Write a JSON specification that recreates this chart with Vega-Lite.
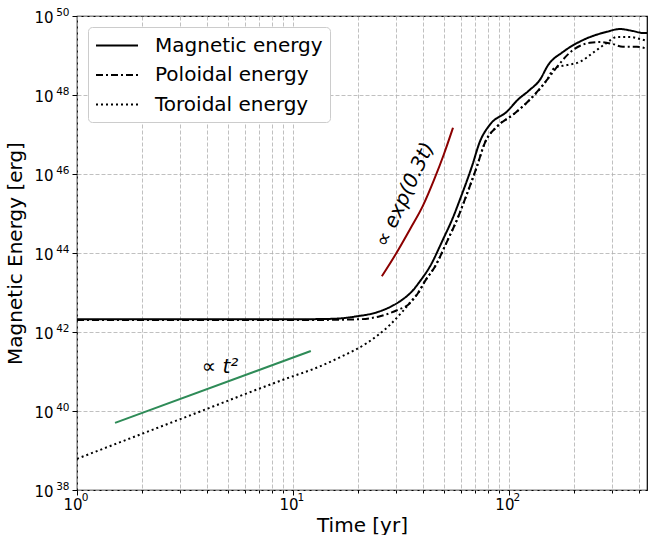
{
  "$schema": "https://vega.github.io/schema/vega-lite/v6.json",
  "width": 570,
  "height": 474,
  "autosize": {"type": "none"},
  "padding": {"left": 77, "top": 16, "right": 5, "bottom": 45},
  "background": "white",
  "config": {
    "font": "DejaVu Sans",
    "view": {"stroke": "black", "strokeWidth": 1.2},
    "axis": {
      "labelFont": "DejaVu Sans",
      "titleFont": "DejaVu Sans",
      "labelFontSize": 15,
      "titleFontSize": 20,
      "titleFontWeight": "normal",
      "labelColor": "black",
      "titleColor": "black",
      "tickColor": "black",
      "domain": false,
      "grid": true,
      "gridColor": "#b0b0b0",
      "gridDash": [4, 2],
      "gridWidth": 0.8,
      "tickSize": 5,
      "labelFlush": false,
      "labelOverlap": false
    }
  },
  "resolve": {"axis": {"x": "independent", "y": "independent"}},
  "datasets": {
    "main": [
      {"series": "Magnetic energy", "t": 1, "E": 2.1e42},
      {"series": "Magnetic energy", "t": 3.16, "E": 2.1e42},
      {"series": "Magnetic energy", "t": 10, "E": 2.1e42},
      {"series": "Magnetic energy", "t": 15, "E": 2.15e42},
      {"series": "Magnetic energy", "t": 19.8, "E": 2.5e42},
      {"series": "Magnetic energy", "t": 24.5, "E": 3.16e42},
      {"series": "Magnetic energy", "t": 28.1, "E": 4.27e42},
      {"series": "Magnetic energy", "t": 32.3, "E": 6.76e42},
      {"series": "Magnetic energy", "t": 35.6, "E": 1.07e43},
      {"series": "Magnetic energy", "t": 38.7, "E": 1.91e43},
      {"series": "Magnetic energy", "t": 43.1, "E": 4.57e43},
      {"series": "Magnetic energy", "t": 49.5, "E": 2.19e44},
      {"series": "Magnetic energy", "t": 55.1, "E": 7.94e44},
      {"series": "Magnetic energy", "t": 59.3, "E": 2.24e45},
      {"series": "Magnetic energy", "t": 67.4, "E": 1.55e46},
      {"series": "Magnetic energy", "t": 73.4, "E": 6.61e46},
      {"series": "Magnetic energy", "t": 81.7, "E": 1.78e47},
      {"series": "Magnetic energy", "t": 97.9, "E": 3.8e47},
      {"series": "Magnetic energy", "t": 110, "E": 7.6e47},
      {"series": "Magnetic energy", "t": 125, "E": 1.35e48},
      {"series": "Magnetic energy", "t": 139, "E": 2.4e48},
      {"series": "Magnetic energy", "t": 152, "E": 5.75e48},
      {"series": "Magnetic energy", "t": 178, "E": 1.23e49},
      {"series": "Magnetic energy", "t": 220, "E": 2.45e49},
      {"series": "Magnetic energy", "t": 284, "E": 3.98e49},
      {"series": "Magnetic energy", "t": 326, "E": 4.68e49},
      {"series": "Magnetic energy", "t": 375, "E": 4.17e49},
      {"series": "Magnetic energy", "t": 417, "E": 3.72e49},
      {"series": "Magnetic energy", "t": 436, "E": 3.72e49},
      {"series": "Poloidal energy", "t": 1, "E": 2.0e42},
      {"series": "Poloidal energy", "t": 3.16, "E": 2.0e42},
      {"series": "Poloidal energy", "t": 10, "E": 2.0e42},
      {"series": "Poloidal energy", "t": 19.8, "E": 2.09e42},
      {"series": "Poloidal energy", "t": 25.3, "E": 2.51e42},
      {"series": "Poloidal energy", "t": 30.3, "E": 3.55e42},
      {"series": "Poloidal energy", "t": 34.8, "E": 5.37e42},
      {"series": "Poloidal energy", "t": 37.9, "E": 9.55e42},
      {"series": "Poloidal energy", "t": 40.8, "E": 1.91e43},
      {"series": "Poloidal energy", "t": 45.5, "E": 4.57e43},
      {"series": "Poloidal energy", "t": 52.2, "E": 2.19e44},
      {"series": "Poloidal energy", "t": 58.1, "E": 7.94e44},
      {"series": "Poloidal energy", "t": 62.5, "E": 2.24e45},
      {"series": "Poloidal energy", "t": 71.1, "E": 1.55e46},
      {"series": "Poloidal energy", "t": 77.4, "E": 6.17e46},
      {"series": "Poloidal energy", "t": 88, "E": 1.58e47},
      {"series": "Poloidal energy", "t": 104.4, "E": 3.16e47},
      {"series": "Poloidal energy", "t": 125, "E": 7.6e47},
      {"series": "Poloidal energy", "t": 150, "E": 2.4e48},
      {"series": "Poloidal energy", "t": 167, "E": 5.13e48},
      {"series": "Poloidal energy", "t": 191, "E": 1.17e49},
      {"series": "Poloidal energy", "t": 237, "E": 2.09e49},
      {"series": "Poloidal energy", "t": 264, "E": 2.19e49},
      {"series": "Poloidal energy", "t": 303, "E": 1.95e49},
      {"series": "Poloidal energy", "t": 337, "E": 1.66e49},
      {"series": "Poloidal energy", "t": 391, "E": 1.66e49},
      {"series": "Poloidal energy", "t": 436, "E": 1.48e49},
      {"series": "Toroidal energy", "t": 1, "E": 6.17e38},
      {"series": "Toroidal energy", "t": 3.16, "E": 6.9e39},
      {"series": "Toroidal energy", "t": 10, "E": 7.6e40},
      {"series": "Toroidal energy", "t": 12.4, "E": 1.15e41},
      {"series": "Toroidal energy", "t": 16.5, "E": 2.29e41},
      {"series": "Toroidal energy", "t": 22.0, "E": 5.25e41},
      {"series": "Toroidal energy", "t": 28.1, "E": 1.51e42},
      {"series": "Toroidal energy", "t": 32.3, "E": 3.39e42},
      {"series": "Toroidal energy", "t": 35.9, "E": 6.76e42},
      {"series": "Toroidal energy", "t": 37.9, "E": 9.55e42},
      {"series": "Toroidal energy", "t": 40.8, "E": 1.91e43},
      {"series": "Toroidal energy", "t": 45.5, "E": 4.57e43},
      {"series": "Toroidal energy", "t": 52.2, "E": 2.19e44},
      {"series": "Toroidal energy", "t": 58.1, "E": 7.94e44},
      {"series": "Toroidal energy", "t": 62.5, "E": 2.24e45},
      {"series": "Toroidal energy", "t": 71.1, "E": 1.55e46},
      {"series": "Toroidal energy", "t": 77.4, "E": 6.17e46},
      {"series": "Toroidal energy", "t": 88, "E": 1.58e47},
      {"series": "Toroidal energy", "t": 104.4, "E": 3.16e47},
      {"series": "Toroidal energy", "t": 125, "E": 7.6e47},
      {"series": "Toroidal energy", "t": 150, "E": 2.4e48},
      {"series": "Toroidal energy", "t": 163, "E": 4.9e48},
      {"series": "Toroidal energy", "t": 186, "E": 5.75e48},
      {"series": "Toroidal energy", "t": 213, "E": 6.9e48},
      {"series": "Toroidal energy", "t": 245, "E": 1.17e49},
      {"series": "Toroidal energy", "t": 284, "E": 2.09e49},
      {"series": "Toroidal energy", "t": 316, "E": 2.95e49},
      {"series": "Toroidal energy", "t": 363, "E": 2.95e49},
      {"series": "Toroidal energy", "t": 403, "E": 2.63e49},
      {"series": "Toroidal energy", "t": 436, "E": 2.34e49}
    ],
    "green": [
      {"t": 1.5, "E": 5.0e39},
      {"t": 12.1, "E": 3.3e41}
    ],
    "red": [
      {"t": 25.8, "E": 2.57e43},
      {"t": 30, "E": 9.55e43},
      {"t": 35, "E": 4.17e44},
      {"t": 40, "E": 1.58e45},
      {"t": 45, "E": 7.08e45},
      {"t": 50, "E": 3.16e46},
      {"t": 55.1, "E": 1.48e47}
    ],
    "labels": [
      {"t": 4.6, "E": 1.3e41, "text": "∝ t²", "kind": "t2"},
      {"t": 33.0, "E": 3.0e45, "text": "∝ exp(0.3t)", "kind": "exp"}
    ]
  },
  "layer": [
    {
      "data": {"name": "main"},
      "mark": {"type": "line", "strokeWidth": 2, "color": "black", "interpolate": "monotone", "clip": true},
      "encoding": {
        "x": {
          "field": "t", "type": "quantitative",
          "scale": {"type": "log", "domain": [1, 436], "nice": false},
          "axis": {
            "orient": "bottom",
            "title": "Time [yr]",
            "values": [1, 10, 100],
            "labelExpr": "'10'",
            "labelOffset": -4.5,
            "labelPadding": 2,
            "titlePadding": 3
          }
        },
        "y": {
          "field": "E", "type": "quantitative",
          "scale": {"type": "log", "domain": [1e38, 1e50], "nice": false},
          "axis": {
            "orient": "left",
            "title": "Magnetic Energy [erg]",
            "values": [1e38, 1e40, 1e42, 1e44, 1e46, 1e48, 1e50],
            "labelExpr": "'10'",
            "labelOffset": 1,
            "labelPadding": 19,
            "titlePadding": 8
          }
        },
        "strokeDash": {
          "field": "series", "type": "nominal",
          "scale": {"domain": ["Magnetic energy", "Poloidal energy", "Toroidal energy"], "range": [[1, 0], [7, 3, 2, 3], [2, 3]]},
          "legend": {
            "title": null,
            "orient": "none",
            "legendX": 11,
            "legendY": 11,
            "padding": 7,
            "labelFontSize": 20,
            "labelFont": "DejaVu Sans",
            "labelColor": "black",
            "labelLimit": 400,
            "symbolType": "M-1,0H3",
            "symbolSize": 441,
            "symbolStrokeWidth": 2,
            "symbolStrokeColor": "black",
            "labelOffset": 37,
            "rowPadding": 7.5,
            "strokeColor": "#cccccc",
            "fillColor": "white",
            "cornerRadius": 4
          }
        }
      }
    },
    {
      "data": {"name": "green"},
      "mark": {"type": "line", "strokeWidth": 2, "color": "#2e8b57"},
      "encoding": {
        "x": {
          "field": "t", "type": "quantitative",
          "axis": {
            "orient": "bottom",
            "title": null,
            "values": [2,3,4,5,6,7,8,9,20,30,40,50,60,70,80,90,200,300,400],
            "labels": false,
            "grid": true,
            "ticks": true,
            "tickSize": 3
          }
        },
        "y": {
          "field": "E", "type": "quantitative",
          "axis": {
            "orient": "left",
            "title": null,
            "values": [1e38, 1e40, 1e42, 1e44, 1e46, 1e48, 1e50],
            "labelExpr": "'' + round(log(datum.value)/LN10)",
            "labelFontSize": 10.5,
            "labelOffset": -4,
            "labelPadding": 8,
            "grid": false,
            "ticks": false,
            "tickSize": 5
          }
        }
      }
    },
    {
      "data": {"name": "red"},
      "mark": {"type": "line", "strokeWidth": 2, "color": "#8b0000", "interpolate": "monotone"},
      "encoding": {
        "x": {
          "field": "t", "type": "quantitative",
          "axis": {
            "orient": "bottom",
            "title": null,
            "values": [1, 10, 100],
            "labelExpr": "'' + round(log(datum.value)/LN10)",
            "labelFontSize": 10.5,
            "labelOffset": 7.5,
            "labelPadding": 2,
            "grid": false,
            "ticks": false,
            "tickSize": 5
          }
        },
        "y": {"field": "E", "type": "quantitative", "axis": null}
      }
    },
    {
      "data": {"name": "labels"},
      "transform": [{"filter": "datum.kind == 't2'"}],
      "mark": {"type": "text", "fontSize": 20, "font": "DejaVu Sans", "fontStyle": "italic", "color": "black", "align": "center", "baseline": "middle"},
      "encoding": {
        "x": {"field": "t", "type": "quantitative", "axis": null},
        "y": {"field": "E", "type": "quantitative", "axis": null},
        "text": {"field": "text"}
      }
    },
    {
      "data": {"name": "labels"},
      "transform": [{"filter": "datum.kind == 'exp'"}],
      "mark": {"type": "text", "fontSize": 20, "font": "DejaVu Sans", "fontStyle": "italic", "color": "black", "align": "center", "baseline": "middle", "angle": 295},
      "encoding": {
        "x": {"field": "t", "type": "quantitative", "axis": null},
        "y": {"field": "E", "type": "quantitative", "axis": null},
        "text": {"field": "text"}
      }
    }
  ]
}
